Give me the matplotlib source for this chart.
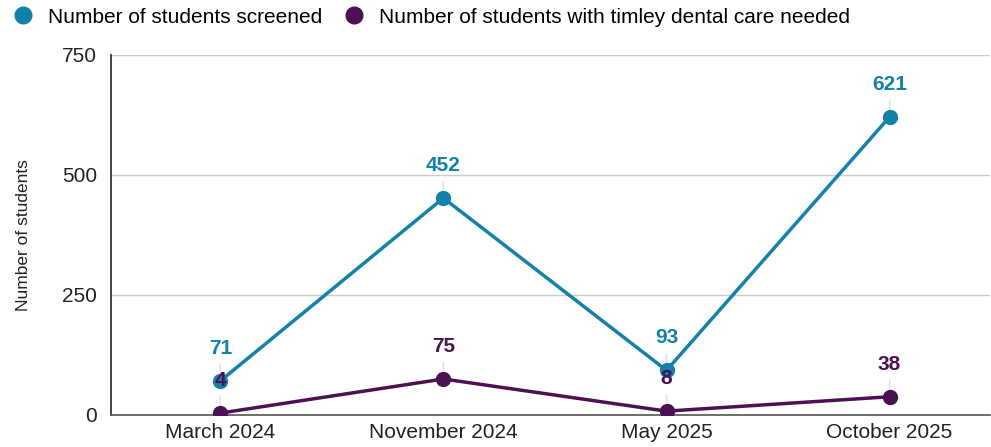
import matplotlib.pyplot as plt

plt.rcParams['font.family'] = ['Liberation Sans', 'DejaVu Sans']

dates = ['March 2024', 'November 2024', 'May 2025', 'October 2025']
screened = [71, 452, 93, 621]
care_needed = [4, 75, 8, 38]

blue = '#1481A9'
purple = '#4C1152'

fig = plt.figure(figsize=(9.91, 4.47), dpi=100)
ax = fig.add_axes([0.112, 0.0716, 0.887, 0.8054])

x = list(range(len(dates)))
ax.plot(x, screened, color=blue, lw=2.5, marker='o', ms=10, zorder=3,
        label='Number of students screened')
ax.plot(x, care_needed, color=purple, lw=2.5, marker='o', ms=10, zorder=3,
        label='Number of students with timley dental care needed')

# value labels with thin leader lines
for series, col in [(screened, blue), (care_needed, purple)]:
    for xi, v in zip(x, series):
        ax.annotate(str(v), xy=(xi, v), xytext=(0, 23.5), textcoords='offset points',
                    ha='center', va='center', color=col, fontsize=15,
                    fontweight='bold', zorder=4,
                    arrowprops=dict(arrowstyle='-', color='#dddddd', lw=1,
                                    shrinkA=3, shrinkB=6))

ax.set_xlim(-0.49, 3.45)
ax.set_ylim(0, 750)
ax.set_yticks([0, 250, 500, 750])
ax.set_xticks(x)
ax.set_xticklabels(dates)
ax.tick_params(axis='both', length=0, labelsize=15, colors='#222222', pad=6)
ax.tick_params(axis='y', pad=10)
ax.grid(axis='y', color='#cccccc', lw=1)
ax.set_axisbelow(True)
for s in ['top', 'right']:
    ax.spines[s].set_visible(False)
ax.spines['left'].set_color('#222222')
ax.spines['bottom'].set_color('#555555')
ax.spines['left'].set_linewidth(1.2)
ax.spines['bottom'].set_linewidth(1.2)
ax.set_ylabel('Number of students', fontsize=12.5, color='#222222', labelpad=22)

fig.legend(loc='upper left', bbox_to_anchor=(-0.006, 1.025), ncol=2, frameon=False,
           fontsize=15, handlelength=1.0, handletextpad=0.7, columnspacing=1.0,
           markerscale=1.2)
leg = fig.legends[0]
for h in leg.legend_handles:
    h.set_linestyle('none')

fig.savefig('out.png', dpi=100)
